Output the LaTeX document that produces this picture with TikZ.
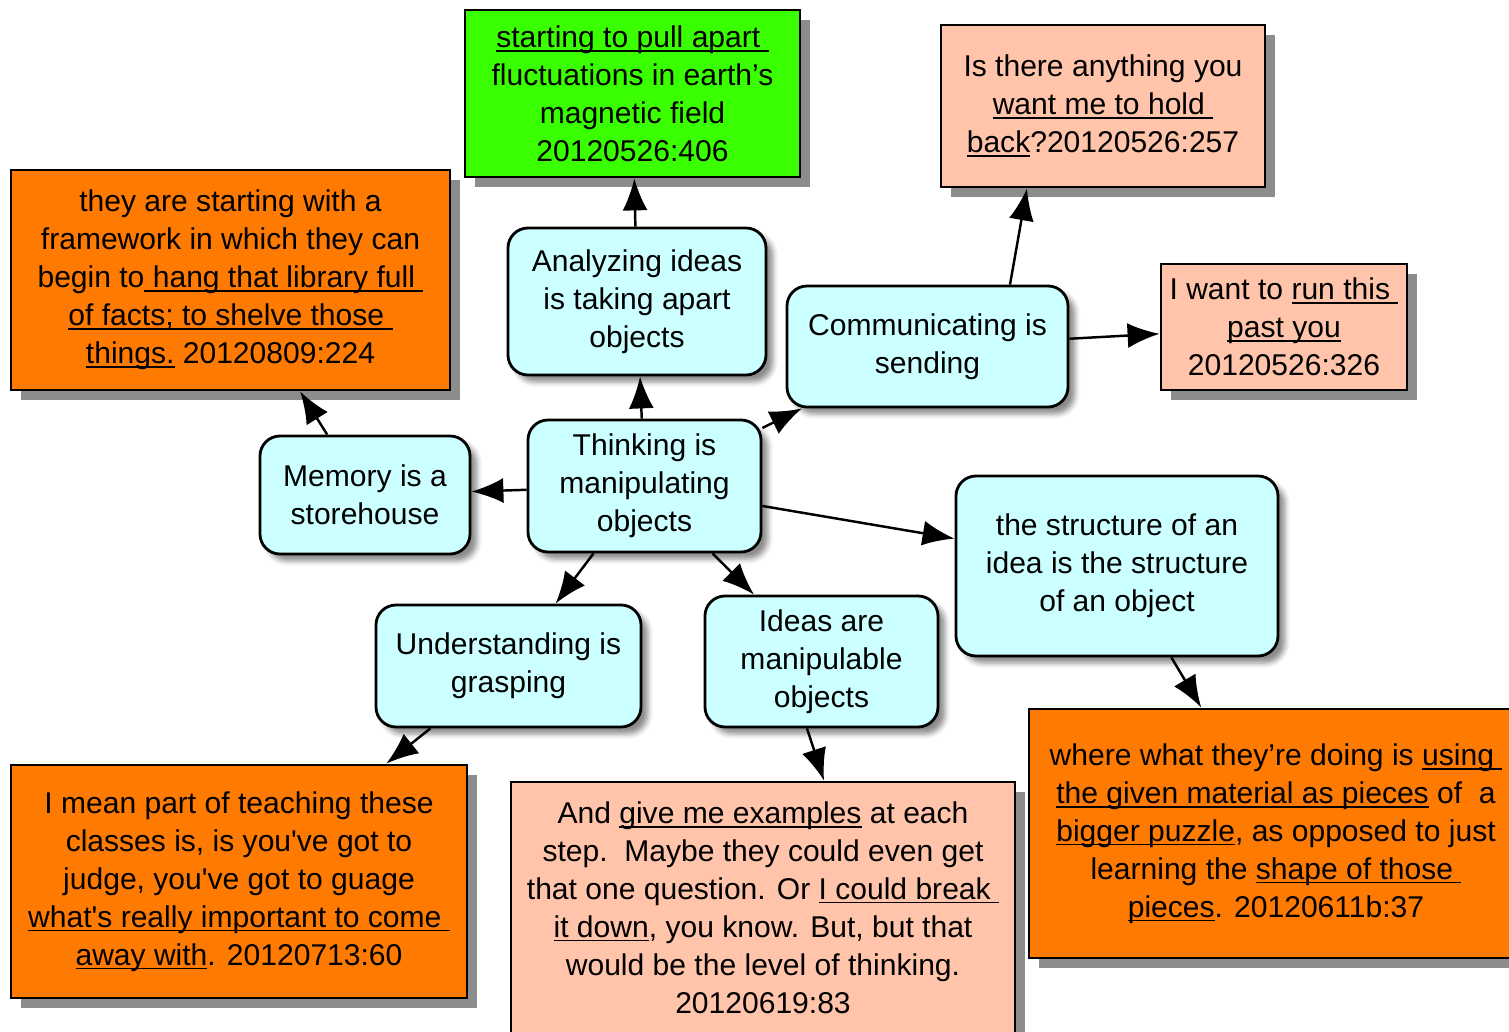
\documentclass[tikz,border=0pt]{standalone}
\usepackage{fontspec}
\setmainfont{Liberation Sans}
\usetikzlibrary{%
  arrows.meta,%
  shadows,%
  shadows.blur%
}
\definecolor{cyanbox}{RGB}{204,255,255}
\definecolor{orangebox}{RGB}{255,122,0}
\definecolor{greenbox}{RGB}{58,255,0}
\definecolor{pinkbox}{RGB}{255,196,170}
\newsavebox{\ulnbox}
\newcommand{\uln}[1]{\sbox{\ulnbox}{#1}\rlap{\rule[-0.14em]{\wd\ulnbox}{0.06em}}\usebox{\ulnbox}}

\begin{document}
\begin{tikzpicture}
[draw=black, line width=1.4pt, >={Latex[length=6.4mm,width=5mm]},
concept/.style={rectangle, rounded corners=4mm, draw, line width=1.6pt, fill=cyanbox, inner sep=0pt, align=center, font=\fontsize{17.1}{21.6}\selectfont, blur shadow={shadow xshift=1.4mm, shadow yshift=-1.4mm, shadow blur radius=1mm, shadow opacity=45}},
quote/.style={rectangle, draw, line width=1.6pt, fill=#1, inner sep=0pt, align=center, font=\fontsize{17.1}{21.6}\selectfont, drop shadow={shadow xshift=2mm, shadow yshift=-2mm, fill=black!45, opacity=1}}]

\useasboundingbox (0,0) rectangle (30.18,-20.64);
\clip (0,0) rectangle (30.18,-20.64);

% quotes
\node[quote=greenbox, minimum width=6.7cm, minimum height=3.34cm] (pull) at (12.65,-1.87) {\uln{starting to pull apart\ }\\ fluctuations in earth’s\\ magnetic field\\ 20120526:406};
\node[quote=orangebox, minimum width=8.78cm, minimum height=4.4cm] (lib) at (4.61,-5.6) {they are starting with a\\ framework in which they can\\ begin to\uln{\ hang that library full\ }\\ \uln{of facts; to shelve those\ }\\ \uln{things.} 20120809:224};
\node[quote=pinkbox, minimum width=6.48cm, minimum height=3.24cm] (hold) at (22.06,-2.12) {Is there anything you\\ \uln{want me to hold\ }\\ \uln{back}?20120526:257};
\node[quote=pinkbox, minimum width=4.92cm, minimum height=2.52cm] (run) at (25.68,-6.54) {I want to \uln{run this\ }\\ \uln{past you}\\ 20120526:326};
\node[quote=orangebox, minimum width=9.88cm, minimum height=4.98cm] (puzzle) at (25.52,-16.67) {where what they’re doing is \uln{using\ }\\ \uln{the given material as pieces} of\ \ a\\ \uln{bigger puzzle}, as opposed to just\\ learning the \uln{shape of those\ }\\ \uln{pieces}. 20120611b:37};
\node[quote=pinkbox, minimum width=10.08cm, minimum height=5.02cm] (ex) at (15.26,-18.15) {And \uln{give me examples} at each\\ step.\ \ Maybe they could even get\\ that one question. Or \uln{I could break\ }\\ \uln{it down}, you know. But, but that\\ would be the level of thinking.\\ 20120619:83};
\node[quote=orangebox, minimum width=9.12cm, minimum height=4.66cm] (guage) at (4.78,-17.63) {I mean part of teaching these\\ classes is, is you\textquotesingle ve got to\\ judge, you\textquotesingle ve got to guage\\ \uln{what\textquotesingle s really important to come\ }\\ \uln{away with}. 20120713:60};

% concepts
\node[concept, minimum width=5.16cm, minimum height=2.94cm] (anal) at (12.74,-6.03) {Analyzing ideas\\ is taking apart\\ objects};
\node[concept, minimum width=5.62cm, minimum height=2.42cm] (comm) at (18.55,-6.93) {Communicating is\\ sending};
\node[concept, minimum width=4.2cm, minimum height=2.36cm] (mem) at (7.3,-9.9) {Memory is a\\ storehouse};
\node[concept, minimum width=4.66cm, minimum height=2.64cm] (think) at (12.89,-9.72) {Thinking is\\ manipulating\\ objects};
\node[concept, minimum width=6.44cm, minimum height=3.6cm] (struct) at (22.34,-11.32) {the structure of an\\ idea is the structure\\ of an object};
\node[concept, minimum width=5.3cm, minimum height=2.44cm] (grasp) at (10.17,-13.32) {Understanding is\\ grasping};
\node[concept, minimum width=4.66cm, minimum height=2.62cm] (ideas) at (16.43,-13.23) {Ideas are\\ manipulable\\ objects};

% links
\draw[->] (think) -- (mem);
\draw[->] (think) -- (anal);
\draw[->] (anal) -- (pull);
\draw[->] (think) -- (comm);
\draw[->] ([xshift=1.65cm]comm.north) -- ([xshift=-1.52cm]hold.south);
\draw[->] (comm) -- (run);
\draw[->] (think) -- (struct);
\draw[->] (think) -- (grasp);
\draw[->] (think) -- (ideas);
\draw[->] (mem) -- (lib);
\draw[->] (grasp) -- (guage);
\draw[->] ([xshift=-0.29cm]ideas.south) -- ([xshift=1.22cm]ex.north);
\draw[->] (struct) -- (puzzle);
\end{tikzpicture}
\end{document}
